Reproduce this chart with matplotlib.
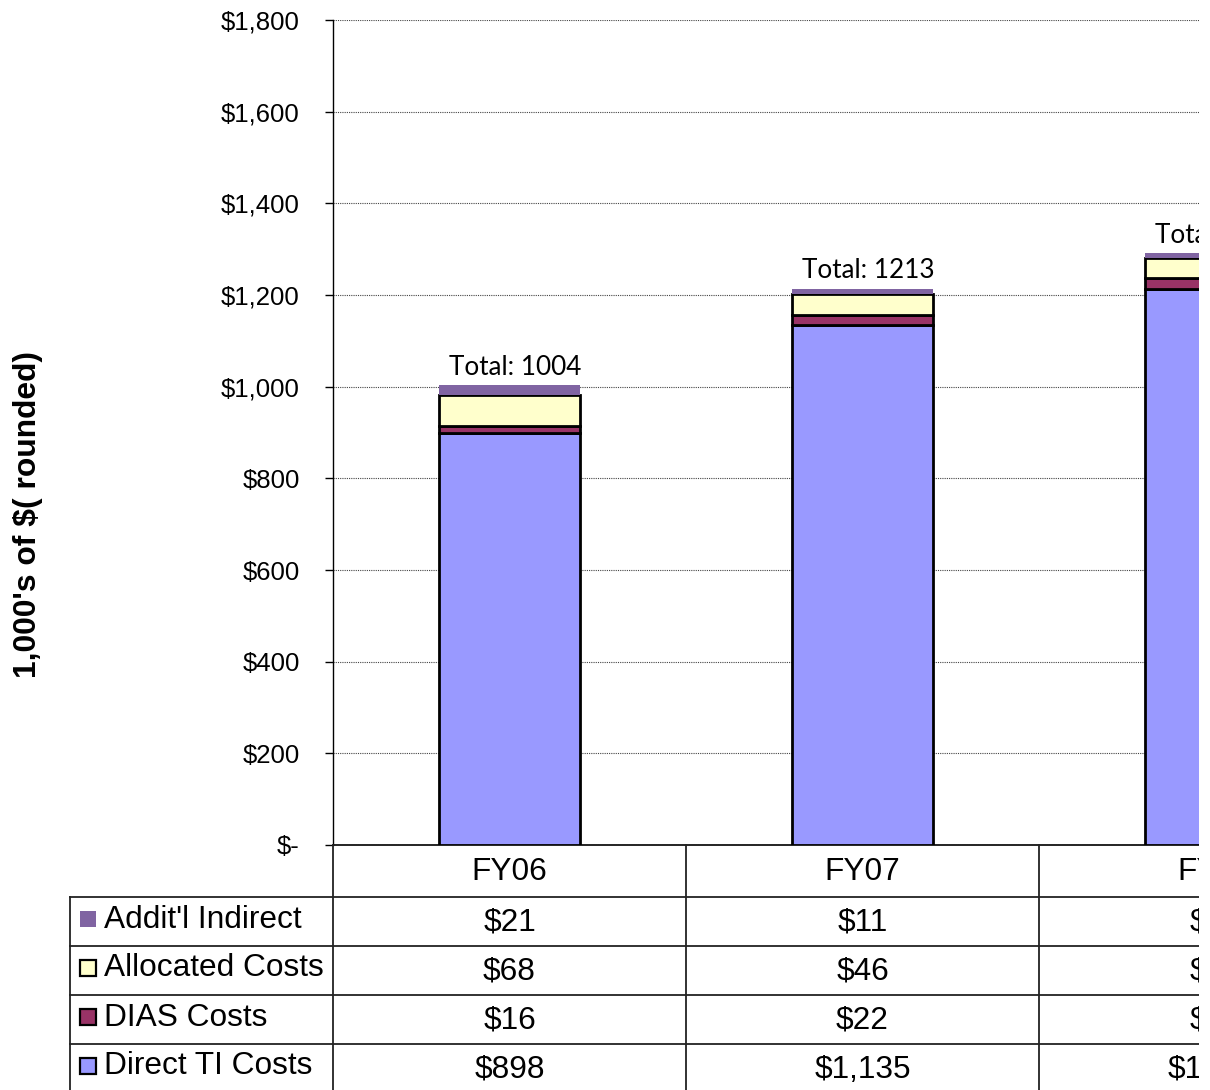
import matplotlib
matplotlib.use("Agg")
import matplotlib.pyplot as plt
from matplotlib.patches import Rectangle
from matplotlib.transforms import blended_transform_factory
from matplotlib.ticker import FuncFormatter

plt.rcParams['font.family'] = ['Liberation Sans', 'DejaVu Sans']

# data (1,000's of $)
years = ["FY06", "FY07", "FY08"]
direct_ti = [898, 1135, 1213]
dias = [16, 22, 24]
allocated = [68, 46, 44]
addit_indirect = [21, 11, 10]
totals = [1004, 1213, 1290]

# table rows, top to bottom (same order as the reference)
row_names = ["Addit'l Indirect", "Allocated Costs", "DIAS Costs", "Direct TI Costs"]
row_values = [addit_indirect, allocated, dias, direct_ti]
row_colors = ["#8064A2", "#FFFFCC", "#993366", "#9999FF"]
row_edges = [None, "black", "black", "black"]

W, H = 1210, 1090
fig = plt.figure(figsize=(W / 100, H / 100), dpi=100)

# plot area runs past the right edge of the picture, like the reference crop
ax_left, ax_right, ax_top, ax_bottom = 333, 1392, 20, 845
ax = fig.add_axes([ax_left / W, 1 - ax_bottom / H,
                   (ax_right - ax_left) / W, (ax_bottom - ax_top) / H])

x = list(range(len(years)))
bar_w = 0.4
edge_lw = 2.0

bottom = [0] * len(years)
stack = [(direct_ti, 3), (dias, 2), (allocated, 1), (addit_indirect, 0)]
for vals, k in stack:
    ec = row_edges[k] if row_edges[k] else "none"
    ax.bar(x, vals, bar_w, bottom=bottom, color=row_colors[k],
           edgecolor=ec, linewidth=edge_lw if row_edges[k] else 0, zorder=3)
    bottom = [b + v for b, v in zip(bottom, vals)]

for i, t in enumerate(totals):
    ax.text(i + 0.017, bottom[i] + 12, f"Total: {t}", ha="center", va="bottom",
            fontsize=18.8, family=["Lato", "DejaVu Sans"], zorder=4)

ax.set_xlim(-0.5, len(years) - 0.5)
ax.set_ylim(0, 1800)
ax.set_yticks(range(0, 1801, 200))
ax.yaxis.set_major_formatter(FuncFormatter(lambda v, p: "$-" if v == 0 else f"${v:,.0f}"))
ax.tick_params(axis="y", direction="out", length=6, width=1, pad=18, labelsize=18.5)
ax.set_xticks([])
ax.grid(axis="y", linestyle=(0, (1, 1)), color="#444444", linewidth=0.8, zorder=0)
for s in ["top", "right"]:
    ax.spines[s].set_visible(False)
ax.spines["left"].set_linewidth(1)
ax.spines["bottom"].set_linewidth(1.2)

fig.text(28 / W, 1 - 514 / H, "1,000's of $( rounded)", rotation=90, ha="center",
         va="center", fontsize=22.9, fontweight="bold")

# data table under the plot, overlay axes in pixel rows
tab = fig.add_axes([0, 0, 1, 1], facecolor="none")
tab.set_xlim(0, W)
tab.set_ylim(H, 0)
tab.axis("off")
tr = blended_transform_factory(ax.transData, tab.transData)

row_lines = [897, 946, 995, 1044]
row_h = 49
tab_left = 70
lc = "#222222"
for yl in row_lines:
    tab.plot([tab_left, W], [yl, yl], color=lc, lw=1.3)
tab.plot([tab_left, tab_left], [row_lines[0], H], color=lc, lw=1.3)
for xb in [-0.5] + [i + 0.5 for i in x]:
    tab.plot([xb, xb], [ax_bottom, H + 5], color=lc, lw=1.3, transform=tr, clip_on=False)

for i, yr in enumerate(years):
    tab.text(i, (ax_bottom + row_lines[0]) / 2 + 1, yr, transform=tr,
             ha="center", va="center", fontsize=22.8)

for r, name in enumerate(row_names):
    yc = row_lines[r] + row_h / 2
    ec = row_edges[r] if row_edges[r] else row_colors[r]
    tab.plot([88], [yc - 3], marker="s", markersize=12, color=row_colors[r],
             mec=ec, mew=1.6 if row_edges[r] else 0)
    tab.text(104, yc - 2, name, ha="left", va="center", fontsize=22.8)
    for i, v in enumerate(row_values[r]):
        tab.text(i, yc + 1, f"${v:,}", transform=tr, ha="center", va="center",
                 fontsize=22.8)

# the reference is cut off a few pixels before the right edge
fig.add_artist(Rectangle((1199 / W, 0), 1, 1, transform=fig.transFigure,
                         facecolor="white", edgecolor="none", zorder=10))

fig.savefig("out.png", dpi=100)
